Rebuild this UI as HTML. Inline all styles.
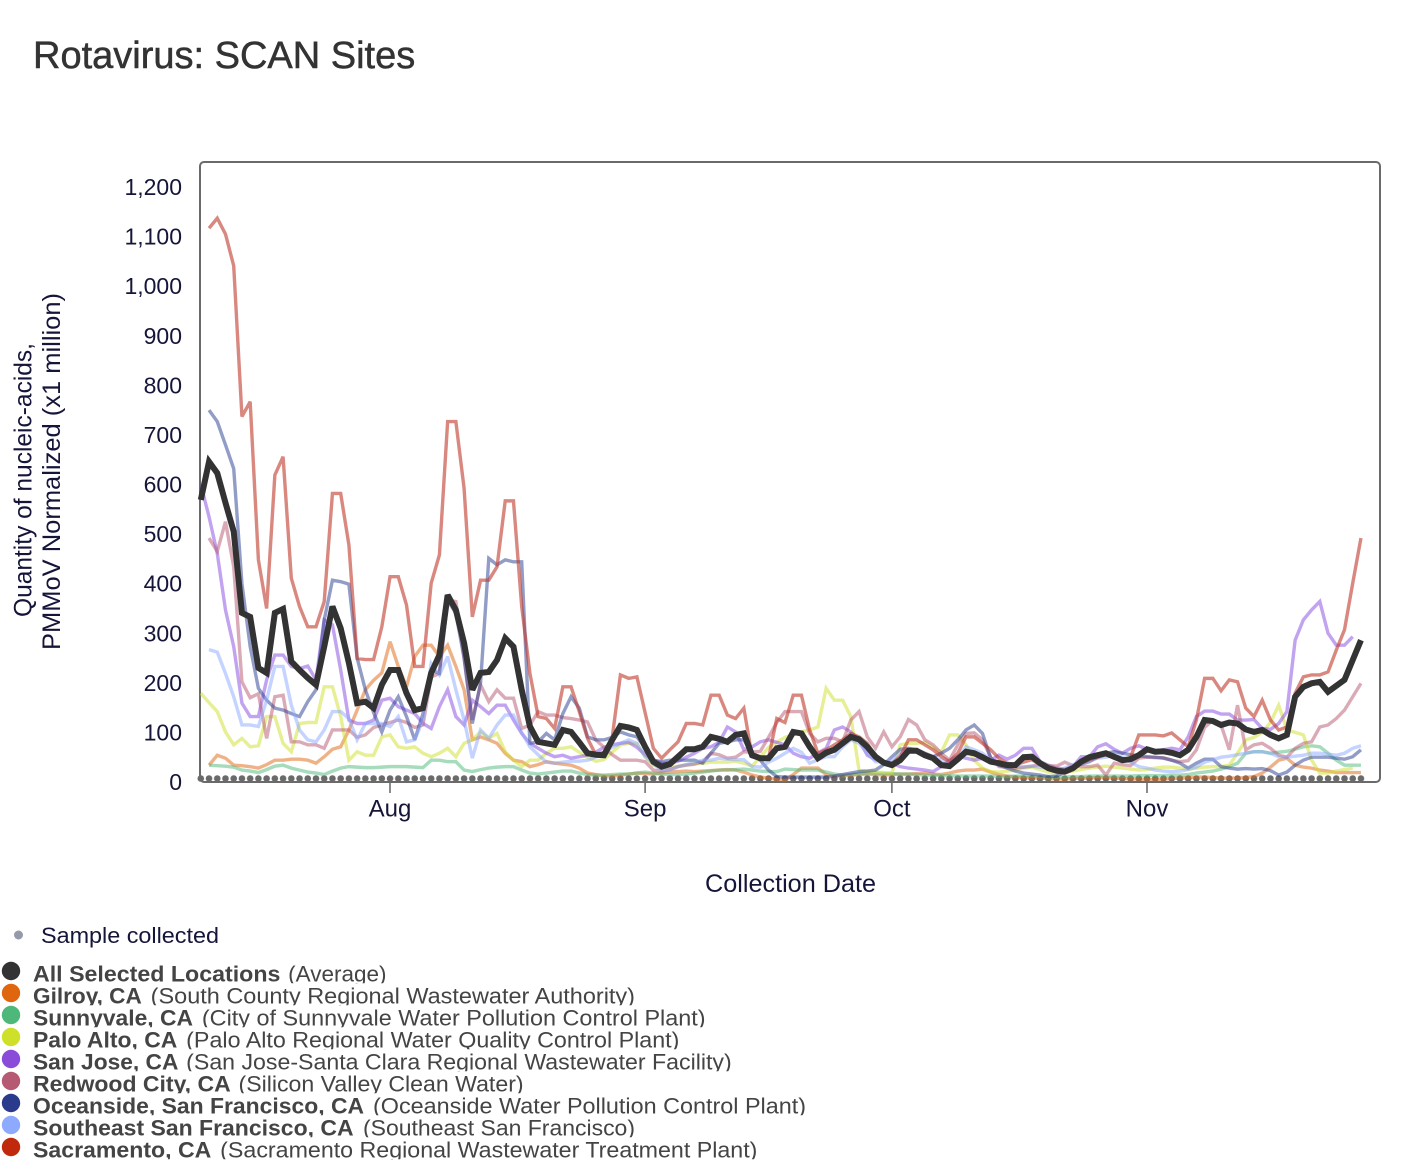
<!DOCTYPE html>
<html>
<head>
<meta charset="utf-8">
<style>
  html,body{margin:0;padding:0;background:#fff;}
  body{width:1420px;height:1176px;overflow:hidden;}
  svg{display:block;font-family:"Liberation Sans",Arial,sans-serif;}
</style>
</head>
<body>
<svg width="1420" height="1176" viewBox="0 0 1420 1176" xmlns="http://www.w3.org/2000/svg">
  <defs>
    <pattern id="dots" x="196.8" y="774" width="8.228" height="9" patternUnits="userSpaceOnUse">
      <circle cx="4" cy="4.5" r="3.3" fill="#6a6a6a"/>
    </pattern>
    <clipPath id="c0"><rect x="0" y="961.7" width="900" height="21.5"/></clipPath>
    <clipPath id="c1"><rect x="0" y="983.7" width="900" height="21.5"/></clipPath>
    <clipPath id="c2"><rect x="0" y="1005.7" width="900" height="21.5"/></clipPath>
    <clipPath id="c3"><rect x="0" y="1027.7" width="900" height="21.5"/></clipPath>
    <clipPath id="c4"><rect x="0" y="1049.7" width="900" height="21.5"/></clipPath>
    <clipPath id="c5"><rect x="0" y="1071.7" width="900" height="21.5"/></clipPath>
    <clipPath id="c6"><rect x="0" y="1093.7" width="900" height="21.5"/></clipPath>
    <clipPath id="c7"><rect x="0" y="1115.7" width="900" height="21.5"/></clipPath>
    <clipPath id="c8"><rect x="0" y="1137.7" width="900" height="21.5"/></clipPath>
  </defs>

  <!-- Title -->
  <text x="33" y="68" font-size="38" fill="#333" stroke="#333" stroke-width="0.5">Rotavirus: SCAN Sites</text>

  <!-- Y tick labels -->
  <g font-size="23" fill="#15153a" text-anchor="end">
    <text x="182" y="790">0</text>
    <text x="182" y="740.4">100</text>
    <text x="182" y="690.8">200</text>
    <text x="182" y="641.3">300</text>
    <text x="182" y="591.7">400</text>
    <text x="182" y="542.1">500</text>
    <text x="182" y="492.5">600</text>
    <text x="182" y="442.9">700</text>
    <text x="182" y="393.3">800</text>
    <text x="182" y="343.8">900</text>
    <text x="182" y="294.2">1,000</text>
    <text x="182" y="244.6">1,100</text>
    <text x="182" y="195">1,200</text>
  </g>

  <!-- Y axis title -->
  <g font-size="25" fill="#15153a" text-anchor="middle">
    <text transform="translate(31.5,480) rotate(-90)" textLength="274" lengthAdjust="spacingAndGlyphs">Quantity of nucleic-acids,</text>
    <text transform="translate(60,471.5) rotate(-90)" textLength="357" lengthAdjust="spacingAndGlyphs">PMMoV Normalized (x1 million)</text>
  </g>

  <!-- X ticks -->
  <g stroke="#666" stroke-width="1.5">
    <line x1="390" y1="782" x2="390" y2="793"/>
    <line x1="645.1" y1="782" x2="645.1" y2="793"/>
    <line x1="891.9" y1="782" x2="891.9" y2="793"/>
    <line x1="1147" y1="782" x2="1147" y2="793"/>
  </g>
  <g font-size="24" fill="#15153a" text-anchor="middle">
    <text x="390" y="816.5">Aug</text>
    <text x="645.1" y="816.5">Sep</text>
    <text x="891.9" y="816.5">Oct</text>
    <text x="1147" y="816.5">Nov</text>
  </g>
  <text x="790.5" y="892" font-size="25" fill="#15153a" text-anchor="middle" textLength="171" lengthAdjust="spacingAndGlyphs">Collection Date</text>

  <!-- Plot frame -->
  <rect x="200" y="162" width="1180" height="620" rx="4" ry="4" fill="none" stroke="#6a6a6a" stroke-width="2"/>

  <!-- Sample dots -->
  <rect x="196.8" y="774" width="1168.4" height="9" fill="url(#dots)"/>

  <!-- Series -->
  <g transform="translate(200.8 782) scale(8.228 -0.49583)" fill="none" stroke-linejoin="miter" stroke-miterlimit="3">
    <!-- Gilroy -->
    <polyline vector-effect="non-scaling-stroke" stroke="#e0650f" stroke-opacity="0.5" stroke-width="3.4" points="1,34 2,54 3,48 4,34 5,33 6,31 7,28 8,35 9,44 10,44 11,46 12,46 13,44 14,38 15,51 16,66 17,71 18,105 19,145 20,186 21,205 22,220 23,283 24,233 25,192 26,253 27,276 28,276 29,253 30,276 31,233 32,186 33,85 34,91 35,85 36,78 37,58 38,44 39,41 40,31 41,35 42,41 43,38 44,36 45,34 46,28 47,18 48,15 49,12 50,12 51,14 52,16 53,18 54,17 55,16 56,18 57,20 58,21 59,22 60,21 61,22 62,23 63,24 64,25 65,24 66,20 67,14 68,10 69,8 70,5 71,3 72,15 73,28 74,28 75,28 76,15 77,12 78,12 79,14 80,15 81,16 82,15 83,14 84,15 85,16 86,16 87,17 88,18 89,16 90,15 91,18 92,22 93,24 94,24 95,26 96,20 97,15 98,12 99,10 100,9 101,8 102,8 103,7 104,6 105,6 106,7 107,8 108,8 109,9 110,9 111,8 112,7 113,6 114,6 115,5 116,5 117,6 118,7 119,8 120,9 121,10 122,10 123,9 124,8 125,8 126,8 127,9 128,11 129,18 130,30 131,44 132,48 133,34 134,30 135,28 136,24 137,22 138,19 139,19 140,19 141,19"/>
    <!-- Sunnyvale -->
    <polyline vector-effect="non-scaling-stroke" stroke="#4db87a" stroke-opacity="0.5" stroke-width="3.4" points="1,34 2,33 3,32 4,30 5,24 6,22 7,19 8,25 9,32 10,34 11,28 12,24 13,20 14,18 15,15 16,22 17,28 18,31 19,30 20,29 21,29 22,30 23,31 24,31 25,31 26,30 27,29 28,44 29,44 30,41 31,41 32,24 33,21 34,25 35,28 36,30 37,31 38,31 39,24 40,18 41,16 42,18 43,20 44,22 45,22 46,18 47,15 48,14 49,14 50,15 51,16 52,16 53,18 54,20 55,18 56,16 57,15 58,15 59,16 60,18 61,20 62,22 63,24 64,24 65,25 66,26 67,24 68,22 69,21 70,21 71,26 72,25 73,24 74,24 75,24 76,20 77,16 78,14 79,15 80,17 81,18 82,18 83,17 84,17 85,16 86,16 87,15 88,14 89,14 90,13 91,13 92,12 93,12 94,12 95,12 96,12 97,11 98,11 99,12 100,12 101,12 102,11 103,10 104,10 105,10 106,11 107,11 108,12 109,12 110,12 111,12 112,12 113,12 114,13 115,13 116,13 117,13 118,14 119,14 120,15 121,18 122,20 123,22 124,26 125,31 126,38 127,58 128,61 129,61 130,58 131,60 132,62 133,66 134,71 135,73 136,71 137,58 138,44 139,34 140,34 141,34"/>
    <!-- Palo Alto -->
    <polyline vector-effect="non-scaling-stroke" stroke="#cfe02a" stroke-opacity="0.5" stroke-width="3.4" points="0,179 1,160 2,142 3,101 4,75 5,88 6,71 7,73 8,132 9,132 10,78 11,61 12,118 13,120 14,120 15,192 16,192 17,132 18,44 19,61 20,54 21,54 22,91 23,95 24,71 25,68 26,71 27,58 28,51 29,58 30,68 31,51 32,78 33,85 34,101 35,88 36,98 37,61 38,44 39,31 40,44 41,44 42,58 43,68 44,68 45,71 46,60 47,50 48,42 49,45 50,60 51,75 52,78 53,77 54,51 55,34 56,30 57,30 58,32 59,35 60,37 61,38 62,40 63,40 64,40 65,42 66,38 67,32 68,50 69,70 70,80 71,90 72,95 73,101 74,105 75,111 76,189 77,165 78,165 79,132 80,24 81,21 82,20 83,19 84,18 85,75 86,78 87,78 88,80 89,70 90,60 91,95 92,95 93,75 94,44 95,28 96,21 97,20 98,22 99,24 100,28 101,30 102,25 103,20 104,18 105,20 106,22 107,25 108,28 109,30 110,32 111,30 112,28 113,26 114,24 115,25 116,28 117,30 118,30 119,28 120,26 121,28 122,30 123,31 124,31 125,34 126,58 127,85 128,90 129,100 130,120 131,155 132,105 133,100 134,95 135,44 136,18 137,18 138,22 139,25 140,28"/>
    <!-- San Jose -->
    <polyline vector-effect="non-scaling-stroke" stroke="#8a4fe0" stroke-opacity="0.52" stroke-width="3.4" points="0,600 1,535 2,461 3,347 4,273 5,159 6,132 7,132 8,206 9,256 10,256 11,233 12,229 13,234 14,206 15,327 16,317 17,226 18,125 19,118 20,118 21,125 22,165 23,169 24,152 25,145 26,138 27,118 28,108 29,152 30,186 31,132 32,115 33,165 34,152 35,138 36,155 37,155 38,125 39,98 40,78 41,68 42,58 43,51 44,54 45,48 46,51 47,54 48,60 49,70 50,75 51,78 52,80 53,70 54,55 55,45 56,38 57,38 58,42 59,50 60,58 61,68 62,71 63,80 64,111 65,101 66,65 67,71 68,81 69,85 70,80 71,75 72,58 73,51 74,48 75,58 76,68 77,105 78,111 79,101 80,85 81,54 82,45 83,40 84,38 85,31 86,28 87,26 88,24 89,21 90,31 91,44 92,52 93,48 94,44 95,48 96,44 97,54 98,46 99,54 100,68 101,68 102,41 103,34 104,28 105,26 106,31 107,51 108,51 109,71 110,77 111,66 112,58 113,68 114,73 115,66 116,61 117,65 118,68 119,65 120,91 121,132 122,143 123,143 124,137 125,137 126,125 127,125 128,126 129,108 130,106 131,118 132,142 133,286 134,327 135,347 136,364 137,300 138,276 139,276 140,293"/>
    <!-- Redwood City -->
    <polyline vector-effect="non-scaling-stroke" stroke="#b5576f" stroke-opacity="0.5" stroke-width="3.4" points="1,492 2,465 3,525 4,434 5,202 6,170 7,178 8,88 9,172 10,175 11,81 12,81 13,75 14,75 15,68 16,105 17,105 18,105 19,90 20,95 21,110 22,115 23,120 24,125 25,120 26,110 27,115 28,212 29,219 30,367 31,364 32,250 33,125 34,196 35,162 36,186 37,169 38,169 39,108 40,115 41,142 42,135 43,135 44,130 45,128 46,125 47,121 48,85 49,70 50,55 51,44 52,44 53,44 54,41 55,24 56,22 57,25 58,31 59,34 60,36 61,41 62,58 63,55 64,48 65,50 66,61 67,60 68,62 69,90 70,120 71,142 72,142 73,142 74,98 75,81 76,88 77,88 78,81 79,125 80,142 81,91 82,68 83,101 84,71 85,91 86,126 87,115 88,85 89,75 90,58 91,44 92,75 93,98 94,99 95,85 96,50 97,31 98,30 99,28 100,30 101,32 102,35 103,33 104,32 105,40 106,33 107,31 108,31 109,34 110,14 111,38 112,35 113,33 114,48 115,50 116,49 117,49 118,44 119,41 120,43 121,65 122,110 123,125 124,115 125,65 126,155 127,65 128,75 129,78 130,68 131,54 132,50 133,68 134,78 135,81 136,111 137,115 138,128 139,145 140,172 141,199"/>
    <!-- Oceanside -->
    <polyline vector-effect="non-scaling-stroke" stroke="#263b8f" stroke-opacity="0.5" stroke-width="3.4" points="1,750 2,727 3,680 4,632 5,400 6,273 7,189 8,165 9,149 10,145 11,138 12,132 13,162 14,186 15,327 16,407 17,404 18,399 19,250 20,186 21,140 22,101 23,145 24,172 25,132 26,85 27,138 28,226 29,219 30,367 31,340 32,250 33,118 34,200 35,451 36,438 37,448 38,444 39,444 40,78 41,81 42,98 43,85 44,138 45,172 46,149 47,91 48,85 49,85 50,90 51,101 52,95 53,91 54,69 55,44 56,41 57,44 58,44 59,44 60,44 61,38 62,58 63,78 64,81 65,85 66,85 67,58 68,44 69,24 70,11 71,10 72,10 73,10 74,10 75,10 76,10 77,12 78,15 79,18 80,21 81,22 82,24 83,35 84,51 85,66 86,68 87,65 88,58 89,51 90,58 91,68 92,85 93,105 94,115 95,98 96,48 97,34 98,28 99,22 100,18 101,16 102,14 103,11 104,12 105,20 106,31 107,36 108,41 109,50 110,58 111,61 112,58 113,55 114,53 115,51 116,50 117,48 118,44 119,38 120,28 121,38 122,46 123,46 124,31 125,28 126,26 127,27 128,26 129,27 130,23 131,14 132,20 133,34 134,44 135,50 136,50 137,50 138,48 139,46 140,51 141,65"/>
    <!-- Southeast SF -->
    <polyline vector-effect="non-scaling-stroke" stroke="#8aa8ff" stroke-opacity="0.5" stroke-width="3.4" points="1,267 2,262 3,219 4,172 5,115 6,115 7,112 8,165 9,233 10,233 11,155 12,105 13,85 14,81 15,105 16,142 17,142 18,128 19,85 20,118 21,118 22,118 23,112 24,132 25,81 26,85 27,125 28,239 29,216 30,253 31,186 32,125 33,48 34,105 35,88 36,115 37,135 38,135 39,100 40,71 41,55 42,40 43,38 44,40 45,42 46,42 47,44 48,50 49,60 50,70 51,78 52,85 53,78 54,51 55,36 56,24 57,24 58,31 59,35 60,39 61,44 62,44 63,48 64,46 65,45 66,45 67,31 68,30 69,40 70,48 71,58 72,68 73,60 74,38 75,45 76,51 77,51 78,71 79,85 80,78 81,58 82,41 83,40 84,44 85,58 86,65 87,60 88,54 89,50 90,44 91,38 92,50 93,71 94,65 95,58 96,45 97,40 98,35 99,32 100,30 101,32 102,30 103,28 104,25 105,28 106,35 107,39 108,44 109,48 110,50 111,54 112,50 113,40 114,31 115,28 116,24 117,22 118,21 119,22 120,25 121,30 122,40 123,45 124,50 125,52 126,55 127,58 128,61 129,61 130,58 131,51 132,50 133,52 134,54 135,58 136,58 137,56 138,54 139,58 140,68 141,73"/>
    <!-- Sacramento -->
    <polyline vector-effect="non-scaling-stroke" stroke="#c0392b" stroke-opacity="0.6" stroke-width="3.4" points="1,1117 2,1137 3,1105 4,1041 5,737 6,767 7,448 8,350 9,619 10,656 11,411 12,354 13,313 14,313 15,364 16,582 17,582 18,478 19,249 20,247 21,247 22,313 23,414 24,414 25,357 26,233 27,233 28,401 29,458 30,727 31,727 32,592 33,333 34,407 35,407 36,434 37,567 38,567 39,354 40,219 41,132 42,128 43,108 44,192 45,192 46,142 47,88 48,55 49,60 50,90 51,216 52,209 53,212 54,140 55,68 56,48 57,65 58,81 59,118 60,118 61,115 62,175 63,175 64,135 65,128 66,149 67,51 68,48 69,48 70,128 71,120 72,175 73,175 74,105 75,58 76,65 77,75 78,85 79,98 80,91 81,78 82,51 83,41 84,38 85,51 86,85 87,85 88,75 89,65 90,51 91,41 92,58 93,91 94,91 95,78 96,65 97,48 98,38 99,35 100,40 101,45 102,35 103,25 104,20 105,18 106,25 107,38 108,45 109,50 110,55 111,48 112,42 113,50 114,95 115,95 116,95 117,93 118,99 119,85 120,71 121,125 122,209 123,209 124,184 125,206 126,202 127,149 128,132 129,165 130,125 131,105 132,111 133,179 134,212 135,216 136,216 137,222 138,266 139,307 140,401 141,492"/>
    <!-- Average -->
    <polyline vector-effect="non-scaling-stroke" stroke="#333333" stroke-width="6" points="0,569 1,646 2,623 3,563 4,505 5,341 6,333 7,230 8,220 9,341 10,349 11,243 12,226 13,210 14,196 15,273 16,354 17,310 18,240 19,159 20,162 21,149 22,196 23,226 24,226 25,179 26,145 27,149 28,220 29,256 30,377 31,347 32,280 33,186 34,220 35,222 36,246 37,290 38,273 39,186 40,112 41,81 42,78 43,75 44,105 45,101 46,80 47,58 48,55 49,54 50,85 51,113 52,110 53,105 54,71 55,41 56,31 57,36 58,51 59,66 60,66 61,71 62,91 63,87 64,81 65,95 66,98 67,54 68,48 69,48 70,68 71,71 72,101 73,98 74,71 75,48 76,59 77,65 78,78 79,91 80,86 81,71 82,51 83,39 84,34 85,44 86,63 87,63 88,54 89,48 90,34 91,32 92,46 93,61 94,58 95,50 96,41 97,38 98,34 99,34 100,50 101,51 102,38 103,28 104,23 105,21 106,28 107,41 108,50 109,54 110,58 111,51 112,44 113,46 114,54 115,66 116,61 117,62 118,59 119,54 120,65 121,91 122,125 123,123 124,115 125,120 126,118 127,106 128,101 129,105 130,95 131,88 132,95 133,172 134,192 135,199 136,202 137,182 138,194 139,206 140,246 141,286"/>
  </g>

  <!-- Legend: sample collected -->
  <circle cx="18.5" cy="935" r="4.5" fill="#959aab"/>
  <text x="41" y="943" font-size="22" fill="#15153a" textLength="178" lengthAdjust="spacingAndGlyphs">Sample collected</text>

  <!-- Legend circles -->
  <circle cx="11" cy="971" r="9.2" fill="#333333"/>
  <circle cx="11" cy="993" r="9.2" fill="#e0650f"/>
  <circle cx="11" cy="1015" r="9.2" fill="#4db87a"/>
  <circle cx="11" cy="1037" r="9.2" fill="#cfe02a"/>
  <circle cx="11" cy="1059" r="9.2" fill="#8a4cd8"/>
  <circle cx="11" cy="1081" r="9.2" fill="#b55a72"/>
  <circle cx="11" cy="1103" r="9.2" fill="#2a3b8c"/>
  <circle cx="11" cy="1125" r="9.2" fill="#8eaaff"/>
  <circle cx="11" cy="1147" r="9.2" fill="#c0290c"/>

  <!-- Legend text -->
  <g font-size="22" fill="#444">
    <g clip-path="url(#c0)">
      <text x="33" y="981.7" font-weight="bold" textLength="247.4" lengthAdjust="spacingAndGlyphs">All Selected Locations</text>
      <text x="288.2" y="981.7" textLength="98.3" lengthAdjust="spacingAndGlyphs">(Average)</text>
    </g>
    <g clip-path="url(#c1)">
      <text x="33" y="1003.7" font-weight="bold" textLength="108.8" lengthAdjust="spacingAndGlyphs">Gilroy, CA</text>
      <text x="150.7" y="1003.7" textLength="484.3" lengthAdjust="spacingAndGlyphs">(South County Regional Wastewater Authority)</text>
    </g>
    <g clip-path="url(#c2)">
      <text x="33" y="1025.7" font-weight="bold" textLength="160" lengthAdjust="spacingAndGlyphs">Sunnyvale, CA</text>
      <text x="201.9" y="1025.7" textLength="503.7" lengthAdjust="spacingAndGlyphs">(City of Sunnyvale Water Pollution Control Plant)</text>
    </g>
    <g clip-path="url(#c3)">
      <text x="33" y="1047.7" font-weight="bold" textLength="144.3" lengthAdjust="spacingAndGlyphs">Palo Alto, CA</text>
      <text x="186.2" y="1047.7" textLength="493.2" lengthAdjust="spacingAndGlyphs">(Palo Alto Regional Water Quality Control Plant)</text>
    </g>
    <g clip-path="url(#c4)">
      <text x="33" y="1069.7" font-weight="bold" textLength="145.4" lengthAdjust="spacingAndGlyphs">San Jose, CA</text>
      <text x="186.2" y="1069.7" textLength="545.5" lengthAdjust="spacingAndGlyphs">(San Jose-Santa Clara Regional Wastewater Facility)</text>
    </g>
    <g clip-path="url(#c5)">
      <text x="33" y="1091.7" font-weight="bold" textLength="197.7" lengthAdjust="spacingAndGlyphs">Redwood City, CA</text>
      <text x="238.5" y="1091.7" textLength="285.1" lengthAdjust="spacingAndGlyphs">(Silicon Valley Clean Water)</text>
    </g>
    <g clip-path="url(#c6)">
      <text x="33" y="1113.7" font-weight="bold" textLength="331.1" lengthAdjust="spacingAndGlyphs">Oceanside, San Francisco, CA</text>
      <text x="373" y="1113.7" textLength="433" lengthAdjust="spacingAndGlyphs">(Oceanside Water Pollution Control Plant)</text>
    </g>
    <g clip-path="url(#c7)">
      <text x="33" y="1135.7" font-weight="bold" textLength="320.6" lengthAdjust="spacingAndGlyphs">Southeast San Francisco, CA</text>
      <text x="363" y="1135.7" textLength="272" lengthAdjust="spacingAndGlyphs">(Southeast San Francisco)</text>
    </g>
    <g clip-path="url(#c8)">
      <text x="33" y="1157.7" font-weight="bold" textLength="178.3" lengthAdjust="spacingAndGlyphs">Sacramento, CA</text>
      <text x="220.2" y="1157.7" textLength="537.2" lengthAdjust="spacingAndGlyphs">(Sacramento Regional Wastewater Treatment Plant)</text>
    </g>
  </g>
</svg>
</body>
</html>
